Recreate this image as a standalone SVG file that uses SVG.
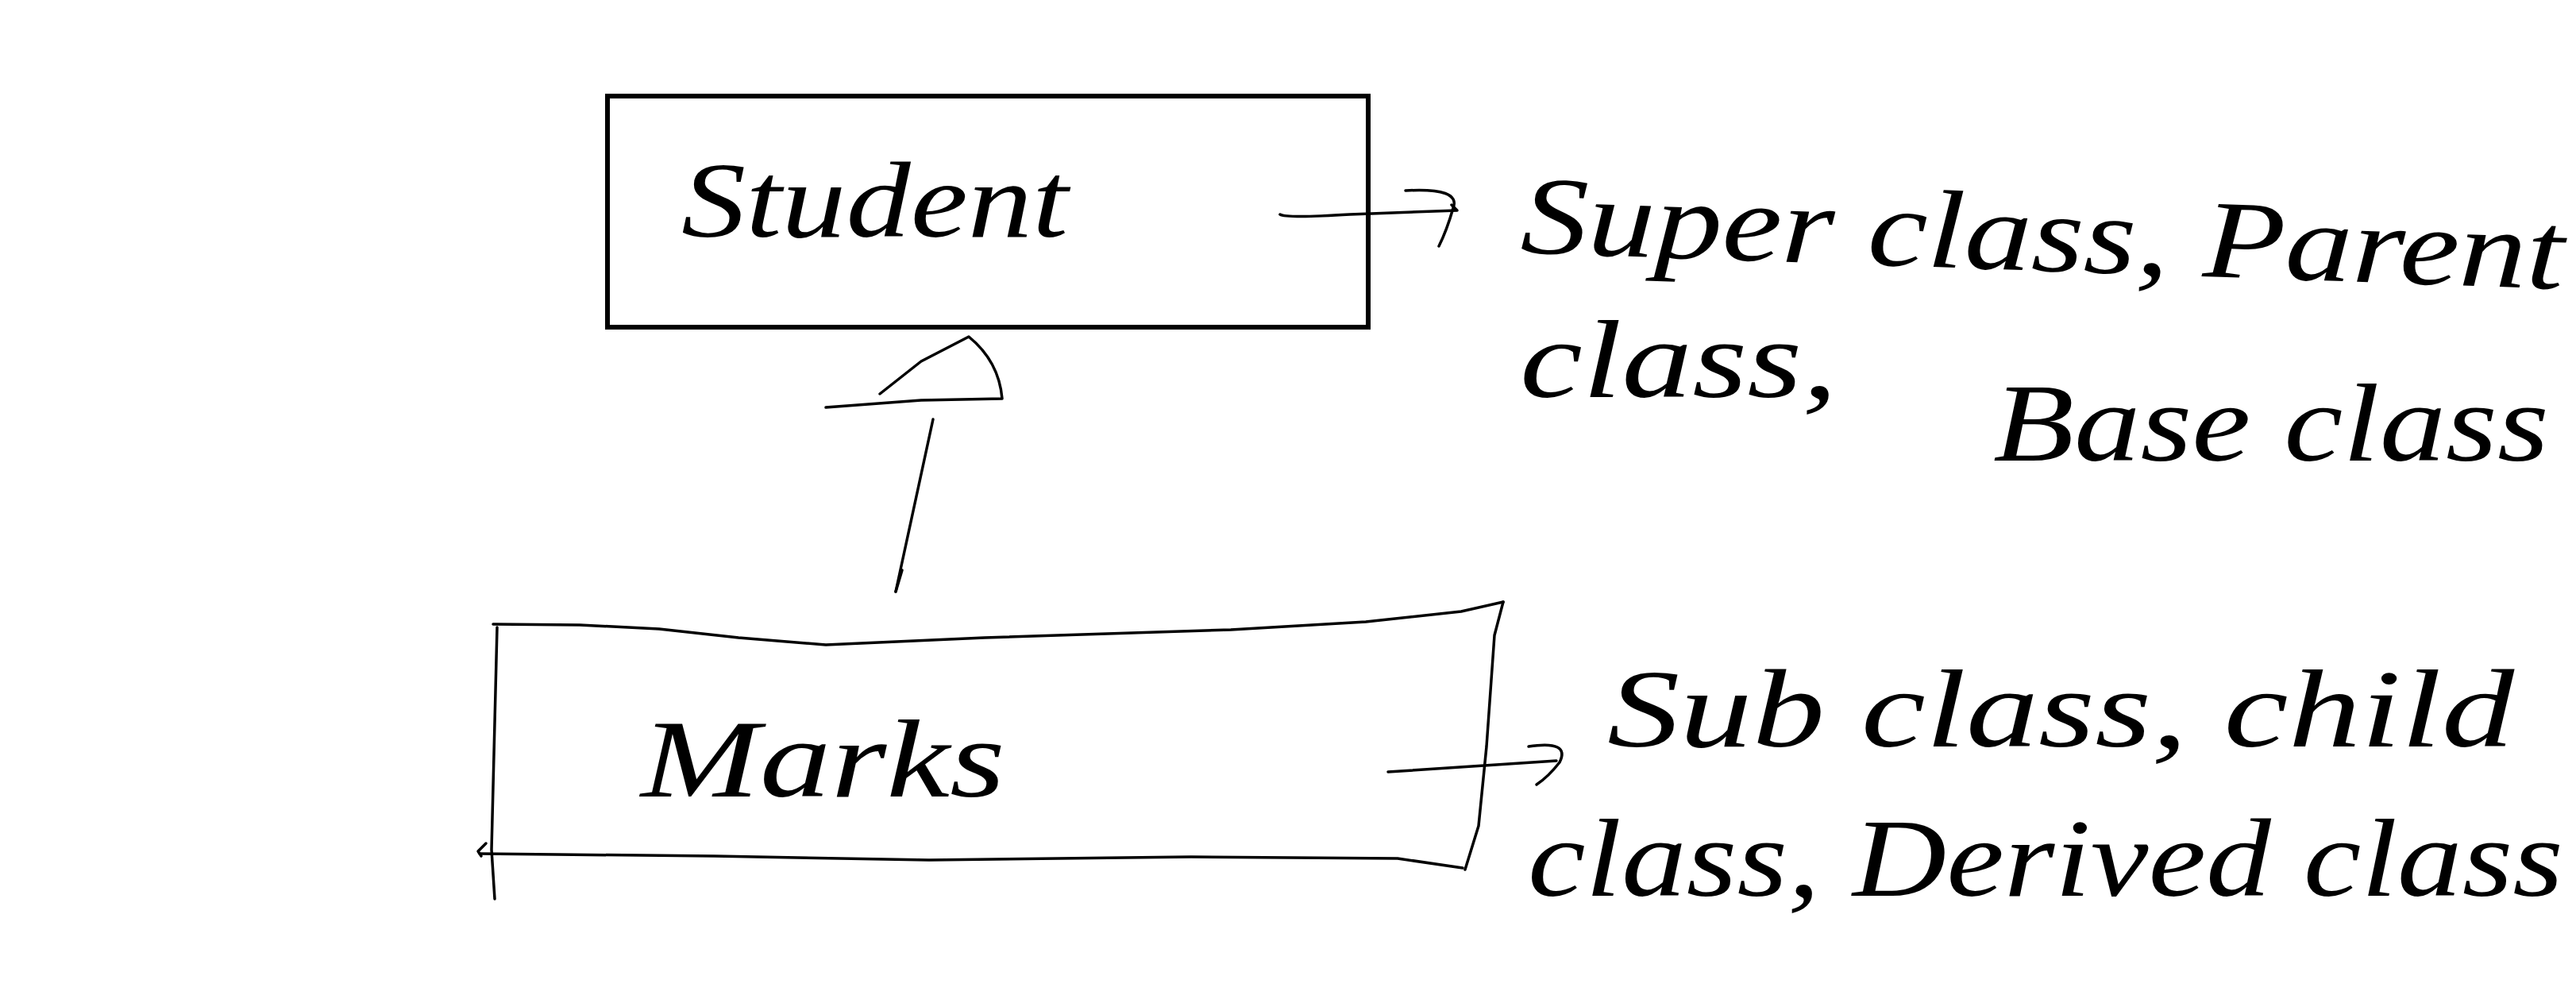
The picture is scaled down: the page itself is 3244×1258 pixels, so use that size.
<svg xmlns="http://www.w3.org/2000/svg" width="3244" height="1258" viewBox="0 0 3244 1258">
<style>
.ink{fill:none;stroke:#000;stroke-width:3.5;stroke-linecap:round;stroke-linejoin:round}
.box{fill:none;stroke:#000;stroke-width:6}
.hw{font-family:"Liberation Serif","DejaVu Serif",serif;font-style:italic;fill:#000}
</style>
<rect width="3244" height="1258" fill="#fff"/>
<g id="student">
<rect class="box" x="765" y="121" width="958" height="291"/>
<text class="hw" x="858" y="298" font-size="135" textLength="487" lengthAdjust="spacingAndGlyphs">Student</text>
</g>
<g id="marks">
<path class="ink" d="M621,786 L730,787 L830,792 L930,803 L1040,812 L1240,803 L1550,793 L1720,783 L1840,770 L1893,758"/>
<path class="ink" d="M1893,758 L1882,800 L1872,940 L1862,1040 L1845,1095"/>
<path class="ink" d="M604,1075 L700,1076 L900,1078 L1170,1083 L1500,1079 L1760,1081 L1842,1093"/>
<path class="ink" d="M626,790 L622,950 L619,1070 L623,1132"/>
<path class="ink" d="M612,1062 L602,1072 L606,1078"/>
<text class="hw" x="807" y="1003" font-size="140" textLength="459" lengthAdjust="spacingAndGlyphs">Marks</text>
</g>
<g id="super-label">
<text class="hw" x="1914" y="318" font-size="140" textLength="1314" lengthAdjust="spacingAndGlyphs" transform="rotate(2 1914 318)">Super class, Parent</text>
<text class="hw" x="1914" y="500" font-size="140" textLength="400" lengthAdjust="spacingAndGlyphs">class,</text>
<text class="hw" x="2510" y="580" font-size="140" textLength="700" lengthAdjust="spacingAndGlyphs">Base class</text>
</g>
<g id="sub-label">
<text class="hw" x="2024" y="940" font-size="140" textLength="1142" lengthAdjust="spacingAndGlyphs">Sub class, child</text>
<text class="hw" x="1924" y="1128" font-size="140" textLength="1304" lengthAdjust="spacingAndGlyphs">class, Derived class</text>
</g>
<g id="connectors">
<path class="ink" d="M1612,270 Q1620,275 1700,270 L1835,265 Q1830,260 1828,258"/>
<path class="ink" d="M1770,240 Q1840,236 1830,262 Q1822,290 1812,310"/>
<path class="ink" d="M1748,972 L1960,958"/>
<path class="ink" d="M1925,940 Q1978,932 1964,960 Q1950,978 1935,988"/>
<path class="ink" d="M1108,496 L1160,455 L1220,424 Q1258,455 1262,502 L1160,504 L1040,513"/>
<path class="ink" d="M1175,528 L1128,745"/>
<path class="ink" d="M1128,745 L1136,718"/>
</g>
</svg>
